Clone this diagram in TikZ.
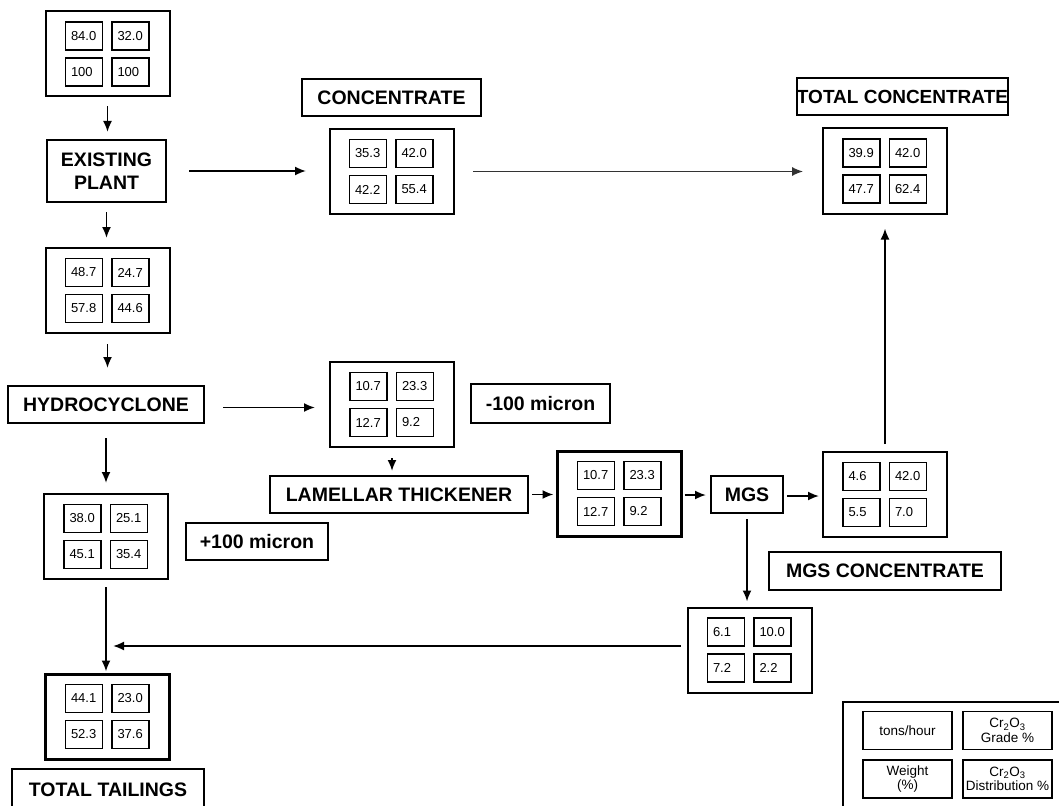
\documentclass[tikz,border=0pt]{standalone}
\usepackage{fontspec}
\setmainfont{Liberation Sans}
\usetikzlibrary{arrows.meta}
\newcommand{\flowbox}[7][outerbox]{%
  \node[#1] (#2) at (#3) {};
  \node[cell] (#2a) at ([shift={(-23.5,-18)}]#2.center) {#4};
  \node[cell] (#2b) at ([shift={(23,-18)}]#2.center) {#5};
  \node[cell] (#2c) at ([shift={(-23.5,18)}]#2.center) {#6};
  \node[cell] (#2d) at ([shift={(23,18)}]#2.center) {#7};
}
\begin{document}
\begin{tikzpicture}[x=1pt,y=-1pt,
  outerbox/.style={draw, line width=2pt, minimum width=124pt, minimum height=85pt, inner sep=0pt},
  outerbold/.style={outerbox, line width=3pt},
  cell/.style={draw, line width=1.9pt, minimum height=28pt, text width=26pt, inner xsep=5.5pt, inner ysep=0pt, align=left, font=\fontsize{13}{15}\selectfont},
  lbl/.style={draw, line width=2pt, inner sep=0pt, font=\fontsize{19.5}{23}\selectfont\bfseries, align=center},
  arr/.style={line width=1.8pt, -{Latex[length=11pt,width=9pt]}},
  thinarr/.style={line width=1.1pt, draw=black!80, -{Latex[length=11pt,width=9pt]}},
  leg/.style={draw, line width=1.9pt, minimum width=89pt, minimum height=38pt, inner sep=0pt, align=center, font=\fontsize{13.5}{14.5}\selectfont}]

\useasboundingbox[fill=white] (0,0) rectangle (1059,805);

% data boxes
\flowbox{in}{107.5,54}{84.0}{32.0}{100}{100}
\flowbox{bb}{107.5,290.5}{48.7}{24.7}{57.8}{44.6}
\flowbox{bc}{106,536.5}{38.0}{25.1}{45.1}{35.4}
\flowbox[outerbold]{tt}{107.5,716.5}{44.1}{23.0}{52.3}{37.6}
\flowbox{cb}{391.5,171.5}{35.3}{42.0}{42.2}{55.4}
\flowbox{tcb}{885,171}{39.9}{42.0}{47.7}{62.4}
\flowbox{ub}{392,404.5}{10.7}{23.3}{12.7}{9.2}
\flowbox[outerbold]{lb}{619.5,493.5}{10.7}{23.3}{12.7}{9.2}
\flowbox{mb}{885,494.5}{4.6}{42.0}{5.5}{7.0}
\flowbox{tb}{749.5,650}{6.1}{10.0}{7.2}{2.2}

% labels
\node[lbl, minimum width=119pt, minimum height=62pt] (ex) at (106.5,171) {EXISTING\\PLANT};
\node[lbl, minimum width=196pt, minimum height=37pt] (hyd) at (106,404.5) {HYDROCYCLONE};
\node[lbl, minimum width=179pt, minimum height=37pt] (concl) at (391.5,97.5) {CONCENTRATE};
\node[lbl, minimum width=211pt, minimum height=37pt, font=\fontsize{19}{23}\selectfont\bfseries] (tconcl) at (902.5,96.5) {TOTAL CONCENTRATE};
\node[lbl, minimum width=139pt, minimum height=39pt] (minus) at (540.5,403.5) {-100 micron};
\node[lbl, minimum width=142pt, minimum height=37pt] (plus) at (257,541.5) {+100 micron};
\node[lbl, minimum width=258pt, minimum height=37pt] (lam) at (399,494.5) {LAMELLAR THICKENER};
\node[lbl, minimum width=72pt, minimum height=37pt] (mgs) at (747,494.5) {MGS};
\node[lbl, minimum width=232pt, minimum height=38pt] (mgsc) at (885,571) {MGS CONCENTRATE};
\node[lbl, minimum width=192pt, minimum height=42pt] (ttl) at (108,790) {TOTAL TAILINGS};

% legend
\node[draw, line width=2pt, minimum width=230pt, minimum height=120pt, inner sep=0pt] (lg) at (958,762) {};
\node[leg] (lga) at (907.5,730.5) {tons/hour};
\node[leg] (lgb) at (1007.5,730.5) {Cr\textsubscript{2}O\textsubscript{3}\\Grade \%};
\node[leg] (lgc) at (907.5,779) {Weight\\(\%)};
\node[leg] (lgd) at (1007.5,779) {Cr\textsubscript{2}O\textsubscript{3}\\Distribution \%};

% connectors
\draw[arr, shorten <=9pt, shorten >=7pt] (in.south) -- (in.south |- ex.north);
\draw[arr, shorten <=9pt, shorten >=9pt] (ex.south) -- (ex.south |- bb.north);
\draw[arr, shorten <=10pt, shorten >=17pt] (bb.south) -- (bb.south |- hyd.north);
\draw[arr, shorten <=14pt, shorten >=10pt] (hyd.south) -- (hyd.south |- bc.north);
\draw[arr, shorten <=7pt, shorten >=1pt] (bc.south) -- (bc.south |- tt.north);
\draw[arr, shorten <=22pt, shorten >=22.5pt] (ex.east) -- (ex.east -| cb.west);
\draw[thinarr, shorten <=18.5pt, shorten >=19pt] (cb.east) -- (cb.east -| tcb.west);
\draw[arr, shorten <=18pt, shorten >=14pt] ([yshift=-3pt]hyd.east) -- ([yshift=-3pt]hyd.east -| ub.west);
\draw[arr, shorten <=10pt, shorten >=4pt] (ub.south) -- (ub.south |- lam.north);
\draw[arr, shorten <=3pt, shorten >=2.5pt] (lam.east) -- (lam.east -| lb.west);
\draw[arr, shorten <=1.5pt, shorten >=4pt] ([yshift=-1.5pt]lb.east) -- ([yshift=-1.5pt]lb.east -| mgs.west);
\draw[arr, shorten <=3pt, shorten >=3pt] ([yshift=-1.5pt]mgs.east) -- ([yshift=-1.5pt]mgs.east -| mb.west);
\draw[arr, shorten <=5pt, shorten >=5pt] (mgs.south) -- (mgs.south |- tb.north);
\draw[arr, shorten <=7pt, shorten >=14pt] (mb.north) -- (mb.north |- tcb.south);
\coordinate (join) at (107,646);
\draw[arr, shorten <=6pt, shorten >=6pt] (tb.west |- join) -- (join);
\end{tikzpicture}
\end{document}
